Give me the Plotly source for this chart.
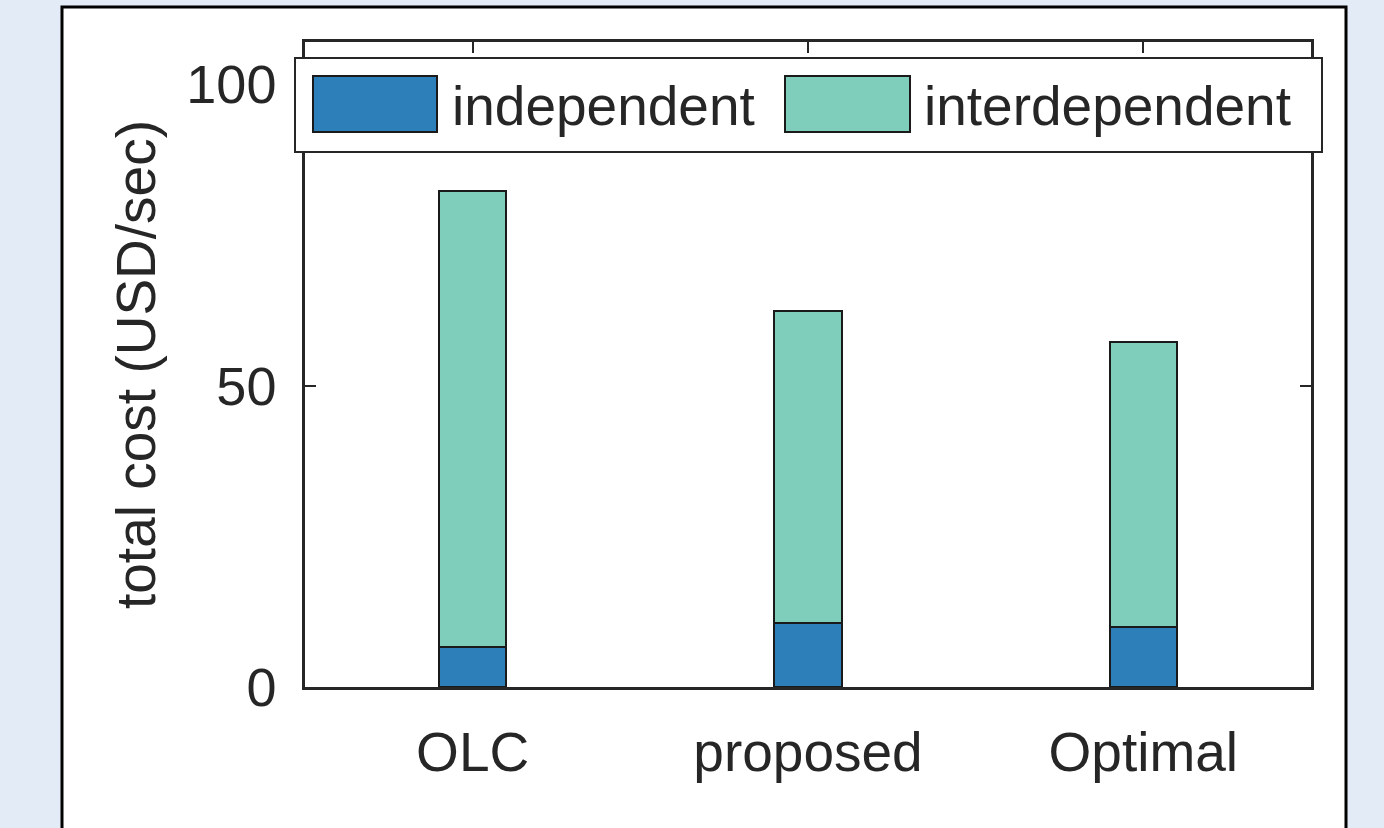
import plotly.graph_objects as go

# Cost breakdown per scheme (USD/sec)
schemes = ["OLC", "proposed", "Optimal"]
independent = [6.7, 10.7, 10.0]
interdependent = [75.6, 51.7, 47.3]
series_names = ["independent", "interdependent"]
series_colors = ["#2c7fb8", "#7fcdbb"]
y_ticks = [0, 50, 100]

W, H = 1384, 828
L, R, T, B = 305, 73, 42, 141
FONT = dict(family="Liberation Sans, Arial, sans-serif", size=55, color="#262626")
TICK_FONT = dict(family="Liberation Sans, Arial, sans-serif", size=54, color="#262626")
EDGE = "#1a1a1a"

fig = go.Figure()
x_pos = [1, 2, 3]
for name, vals, col in zip(series_names, [independent, interdependent], series_colors):
    fig.add_trace(go.Bar(
        x=x_pos, y=vals, name=name, width=0.2,
        marker=dict(color=col, line=dict(color=EDGE, width=2)),
        showlegend=False,
    ))

pw = W - L - R
ph = H - T - B


def px_x(p):
    return (p - L) / pw


def px_y(p):
    return 1 - (p - T) / ph


shapes = [
    # white figure panel with black frame
    dict(type="rect", xref="paper", yref="paper",
         x0=px_x(62), x1=px_x(1346), y0=px_y(860), y1=px_y(7),
         fillcolor="white", line=dict(color="black", width=3), layer="below"),
    # legend frame
    dict(type="rect", xref="paper", yref="paper",
         x0=px_x(295), x1=px_x(1322), y0=px_y(152), y1=px_y(58),
         fillcolor="white", line=dict(color="#262626", width=2), layer="above"),
]
annotations = []
legend_items = [(313, 437, 450), (785, 910, 922)]
for (sx0, sx1, tx), name, col in zip(legend_items, series_names, series_colors):
    shapes.append(dict(type="rect", xref="paper", yref="paper",
                       x0=px_x(sx0), x1=px_x(sx1), y0=px_y(132), y1=px_y(76),
                       fillcolor=col, line=dict(color=EDGE, width=2), layer="above"))
    annotations.append(dict(xref="paper", yref="paper", x=px_x(tx), y=px_y(106),
                            text=name, showarrow=False, xanchor="left", yanchor="middle",
                            font=FONT))

axis_common = dict(showline=True, linecolor="#262626", linewidth=2.5, mirror="ticks",
                   ticks="inside", ticklen=11, tickwidth=2, tickcolor="#262626",
                   showgrid=False, zeroline=False)

fig.update_layout(
    width=W, height=H,
    margin=dict(l=L, r=R, t=T, b=B),
    paper_bgcolor="#e2ebf6",
    plot_bgcolor="white",
    barmode="stack",
    bargap=0,
    shapes=shapes,
    annotations=annotations,
    xaxis=dict(range=[0.5, 3.5], tickmode="array", tickvals=x_pos, ticktext=schemes,
               ticklabelstandoff=15, layer="below traces", tickfont=FONT, **axis_common),
    yaxis=dict(range=[0, 107], tickmode="array", tickvals=y_ticks,
               ticklabelstandoff=15, tickfont=TICK_FONT,
               title=dict(text="total cost (USD/sec)", font=FONT, standoff=14),
               **axis_common),
)

fig.write_html("out.html")
